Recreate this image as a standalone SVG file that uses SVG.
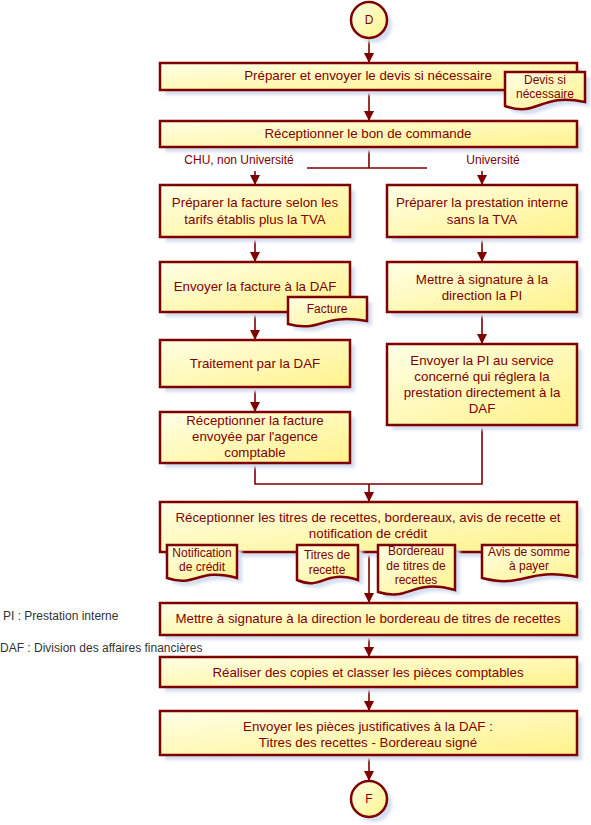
<svg xmlns="http://www.w3.org/2000/svg" width="591" height="825" viewBox="0 0 591 825">
<defs>
<linearGradient id="yg" x1="0" y1="0" x2="1" y2="1">
<stop offset="0" stop-color="#ffffe6"/>
<stop offset="1" stop-color="#fff28a"/>
</linearGradient>
<filter id="sh" x="-10%" y="-20%" width="130%" height="160%">
<feGaussianBlur stdDeviation="1.5"/>
</filter>
<marker id="ah" viewBox="0 0 10 10" refX="10" refY="5" markerWidth="10" markerHeight="10" markerUnits="userSpaceOnUse" orient="auto">
<path d="M0,0 L10,5 L0,10 Z" fill="#7f0000"/>
</marker>
<style>
.box{fill:url(#yg);stroke:#7f0000;stroke-width:2.5}
.shd{fill:#d6deef;filter:url(#sh)}
.t{font-family:"Liberation Sans",Arial,sans-serif;font-size:13.3px;fill:#7f0000;text-anchor:middle}
.lbl{font-family:"Liberation Sans",Arial,sans-serif;font-size:12px;fill:#7f0000;text-anchor:middle}
.leg{font-family:"Liberation Sans",Arial,sans-serif;font-size:12px;fill:#333}
.c{fill:none;stroke:#7f0000;stroke-width:1.6}
.ca{fill:none;stroke:#7f0000;stroke-width:1.6;marker-end:url(#ah)}
</style>
</defs>
<rect width="591" height="825" fill="#ffffff"/>

<g id="connectors">
<path class="ca" d="M369,38 V63"/>
<path class="ca" d="M369,90 V121"/>
<path class="c" d="M369,147 V168 M307,168 H427"/>
<path class="ca" d="M255,171 V185"/>
<path class="ca" d="M482,171 V185"/>
<path class="ca" d="M255,237 V262"/>
<path class="ca" d="M482,237 V262"/>
<path class="ca" d="M255,312 V340"/>
<path class="ca" d="M482,312 V344"/>
<path class="ca" d="M255,387 V412"/>
<path class="c" d="M255,463 V484 H482 V425"/>
<path class="ca" d="M369,484 V502"/>
<path class="ca" d="M369,552 V603"/>
<path class="ca" d="M369,635 V657"/>
<path class="ca" d="M369,687 V711"/>
<path class="ca" d="M369,755 V781"/>
</g>

<g id="start">
<circle class="shd" cx="374" cy="25" r="18"/>
<circle class="box" cx="369" cy="20" r="18"/>
<text class="lbl" x="369" y="24">D</text>
</g>

<g id="n1">
<rect class="shd" x="165" y="68" width="417" height="27"/>
<rect class="box" x="160" y="63" width="417" height="27"/>
<text class="t" x="368" y="80">Préparer et envoyer le devis si nécessaire</text>
</g>
<g id="doc-devis">
<path class="shd" d="M510,77 H590 V107 C544,97 544,123 510,111 Z"/>
<path class="box" d="M505,72 H585 V102 C539,92 539,118 505,106 Z"/>
<text class="lbl" x="545" y="84">Devis si</text>
<text class="lbl" x="545" y="98">nécessaire</text>
</g>

<g id="n2">
<rect class="shd" x="165" y="126" width="417" height="26"/>
<rect class="box" x="160" y="121" width="417" height="26"/>
<text class="t" x="368" y="138">Réceptionner le bon de commande</text>
</g>

<g id="labels">
<text class="lbl" x="239" y="164">CHU, non Université</text>
<text class="lbl" x="493" y="164">Université</text>
</g>

<g id="n3">
<rect class="shd" x="165" y="190" width="190" height="52"/>
<rect class="box" x="160" y="185" width="190" height="52"/>
<text class="t" x="255" y="207">Préparer la facture selon les</text>
<text class="t" x="255" y="224">tarifs établis plus la TVA</text>
</g>
<g id="n4">
<rect class="shd" x="392" y="190" width="190" height="52"/>
<rect class="box" x="387" y="185" width="190" height="52"/>
<text class="t" x="482" y="207">Préparer la prestation interne</text>
<text class="t" x="482" y="224">sans la TVA</text>
</g>

<g id="n5">
<rect class="shd" x="165" y="267" width="190" height="50"/>
<rect class="box" x="160" y="262" width="190" height="50"/>
<text class="t" x="255" y="291">Envoyer la facture à la DAF</text>
</g>
<g id="doc-facture">
<path class="shd" d="M293,302 H372 V326 C326,318 326,338 293,329 Z"/>
<path class="box" d="M288,297 H367 V321 C321,313 321,333 288,324 Z"/>
<text class="lbl" x="327" y="313">Facture</text>
</g>
<g id="n6">
<rect class="shd" x="392" y="267" width="190" height="50"/>
<rect class="box" x="387" y="262" width="190" height="50"/>
<text class="t" x="482" y="284">Mettre à signature à la</text>
<text class="t" x="482" y="300">direction la PI</text>
</g>

<g id="n7">
<rect class="shd" x="165" y="345" width="190" height="47"/>
<rect class="box" x="160" y="340" width="190" height="47"/>
<text class="t" x="255" y="368">Traitement par la DAF</text>
</g>
<g id="n8">
<rect class="shd" x="392" y="349" width="190" height="81"/>
<rect class="box" x="387" y="344" width="190" height="81"/>
<text class="t" x="482" y="365">Envoyer la PI au service</text>
<text class="t" x="482" y="381">concerné qui réglera la</text>
<text class="t" x="482" y="397">prestation directement à la</text>
<text class="t" x="482" y="413">DAF</text>
</g>
<g id="n9">
<rect class="shd" x="165" y="417" width="190" height="51"/>
<rect class="box" x="160" y="412" width="190" height="51"/>
<text class="t" x="255" y="425">Réceptionner la facture</text>
<text class="t" x="255" y="441">envoyée par l'agence</text>
<text class="t" x="255" y="457">comptable</text>
</g>

<g id="n10">
<rect class="shd" x="165" y="507" width="417" height="50"/>
<rect class="box" x="160" y="502" width="417" height="50"/>
<text class="t" x="368" y="522">Réceptionner les titres de recettes, bordereaux, avis de recette et</text>
<text class="t" x="368" y="538">notification de crédit</text>
</g>
<g id="doc-notification">
<path class="shd" d="M172,550 H242 V583 C202,572 202,593 172,583 Z"/>
<path class="box" d="M167,545 H237 V578 C197,567 197,588 167,578 Z"/>
<text class="lbl" x="202" y="557">Notification</text>
<text class="lbl" x="202" y="571">de crédit</text>
</g>
<g id="doc-titres">
<path class="shd" d="M302,550 H363 V585 C328,574 328,596 302,585 Z"/>
<path class="box" d="M297,545 H358 V580 C323,569 323,591 297,580 Z"/>
<text class="lbl" x="327" y="559">Titres de</text>
<text class="lbl" x="327" y="574">recette</text>
</g>
<g id="doc-bordereau">
<path class="shd" d="M383,550 H460 V595 C416,583 416,607 383,597 Z"/>
<path class="box" d="M378,545 H455 V590 C411,578 411,602 378,592 Z"/>
<text class="lbl" x="416" y="555">Bordereau</text>
<text class="lbl" x="416" y="570">de titres de</text>
<text class="lbl" x="416" y="584">recettes</text>
</g>
<g id="doc-avis">
<path class="shd" d="M487,550 H582 V582 C530,572 530,594 487,583 Z"/>
<path class="box" d="M482,545 H577 V577 C525,567 525,589 482,578 Z"/>
<text class="lbl" x="529" y="556">Avis de somme</text>
<text class="lbl" x="529" y="570">à payer</text>
</g>

<g id="n11">
<rect class="shd" x="165" y="608" width="417" height="32"/>
<rect class="box" x="160" y="603" width="417" height="32"/>
<text class="t" x="368" y="623">Mettre à signature à la direction le bordereau de titres de recettes</text>
</g>
<g id="n12">
<rect class="shd" x="165" y="662" width="417" height="30"/>
<rect class="box" x="160" y="657" width="417" height="30"/>
<text class="t" x="368" y="677">Réaliser des copies et classer les pièces comptables</text>
</g>
<g id="n13">
<rect class="shd" x="165" y="716" width="417" height="44"/>
<rect class="box" x="160" y="711" width="417" height="44"/>
<text class="t" x="368" y="731">Envoyer les pièces justificatives à la DAF :</text>
<text class="t" x="368" y="747">Titres des recettes - Bordereau signé</text>
</g>

<g id="end">
<circle class="shd" cx="374" cy="804" r="18"/>
<circle class="box" cx="369" cy="799" r="18"/>
<text class="lbl" x="369" y="803">F</text>
</g>

<g id="legend">
<text class="leg" x="3" y="620">PI : Prestation interne</text>
<text class="leg" x="0" y="652">DAF : Division des affaires financières</text>
</g>
</svg>
